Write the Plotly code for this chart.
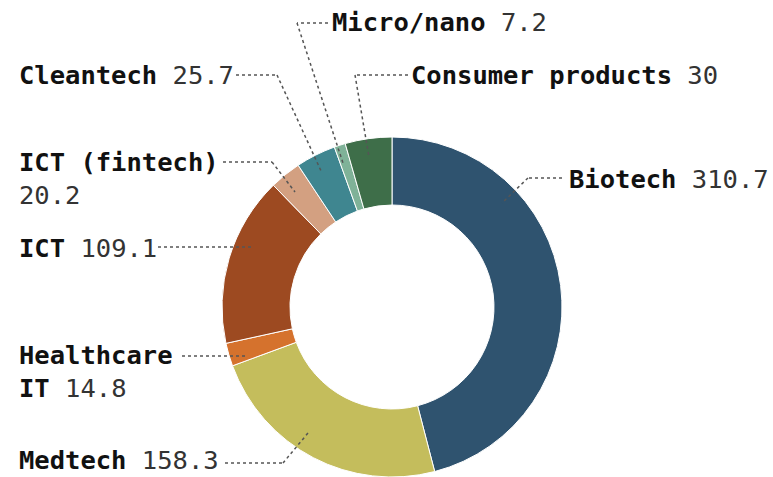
import plotly.graph_objects as go

# ---- data ----
categories = ["Biotech", "Medtech", "Healthcare IT", "ICT", "ICT (fintech)",
              "Cleantech", "Micro/nano", "Consumer products"]
values = [310.7, 158.3, 14.8, 109.1, 20.2, 25.7, 7.2, 30]
colors = ["#2f536f", "#c4bd5c", "#d5722d", "#9d4a21", "#d3a081",
          "#3f8690", "#7fb298", "#3e6e49"]

# label text split (name part bold, value regular); "<br>" placement per label
label_breaks = {"ICT (fintech)": "name_br", "Healthcare IT": "split"}

W, H = 773, 477
CX, CY, R = 392, 307, 170

# ---- layout: label positions (pixel, left x, centre y) & leader paths ----
label_pos = {
    "Biotech": (568, 179),
    "Medtech": (18, 460),
    "Healthcare IT": (18, 371),
    "ICT": (18, 248),
    "ICT (fintech)": (18, 178),
    "Cleantech": (18, 75),
    "Micro/nano": (331, 22),
    "Consumer products": (410, 75),
}
leaders = {
    "Biotech": [(562, 178), (528, 178), (502, 203)],
    "Medtech": [(225, 463), (283, 463), (308, 433)],
    "Healthcare IT": [(182, 356), (248, 356)],
    "ICT": [(158, 247), (252, 247)],
    "ICT (fintech)": [(223, 162), (272, 162), (295, 192)],
    "Cleantech": [(236, 75), (277, 75), (322, 173)],
    "Micro/nano": [(328, 23), (297, 23), (343, 163)],
    "Consumer products": [(408, 75), (355, 75), (369, 157)],
}

def px(x):
    return x / W

def py(y):
    return 1 - y / H

fig = go.Figure(go.Pie(
    labels=categories,
    values=values,
    marker=dict(colors=colors, line=dict(color="white", width=1)),
    hole=0.6,
    sort=False,
    direction="clockwise",
    rotation=0,
    textinfo="none",
    hoverinfo="label+value",
    domain=dict(x=[px(CX - R), px(CX + R)], y=[py(CY + R), py(CY - R)]),
    showlegend=False,
))

shapes = []
for cat, pts in leaders.items():
    for (x0, y0), (x1, y1) in zip(pts[:-1], pts[1:]):
        shapes.append(dict(type="line", xref="paper", yref="paper",
                           x0=px(x0), y0=py(y0), x1=px(x1), y1=py(y1),
                           line=dict(color="#555555", width=1.5, dash="dot")))

annotations = []
for cat, val in zip(categories, values):
    vtxt = f"{val:g}"
    vspan = f"<span style='font-weight:normal;color:#333333'>{vtxt}</span>"
    mode = label_breaks.get(cat)
    if mode == "name_br":
        text = f"<b>{cat}</b><br>{vspan}"
    elif mode == "split":
        a, b = cat.split(" ", 1)
        text = f"<b>{a}</b><br><b>{b}</b> {vspan}"
    else:
        text = f"<b>{cat}</b> {vspan}"
    x, y = label_pos[cat]
    annotations.append(dict(text=text, x=px(x), y=py(y), xref="paper", yref="paper",
                            xanchor="left", yanchor="middle", align="left",
                            showarrow=False, borderpad=0,
                            font=dict(family="DejaVu Sans Mono", size=25.5, color="#111111")))

fig.update_layout(
    width=W, height=H,
    margin=dict(l=0, r=0, t=0, b=0),
    paper_bgcolor="white", plot_bgcolor="white",
    shapes=shapes, annotations=annotations,
)

fig.write_html("out.html",
               config={"displayModeBar": False},
               post_script="document.body.style.margin='0';document.body.style.padding='0';")
